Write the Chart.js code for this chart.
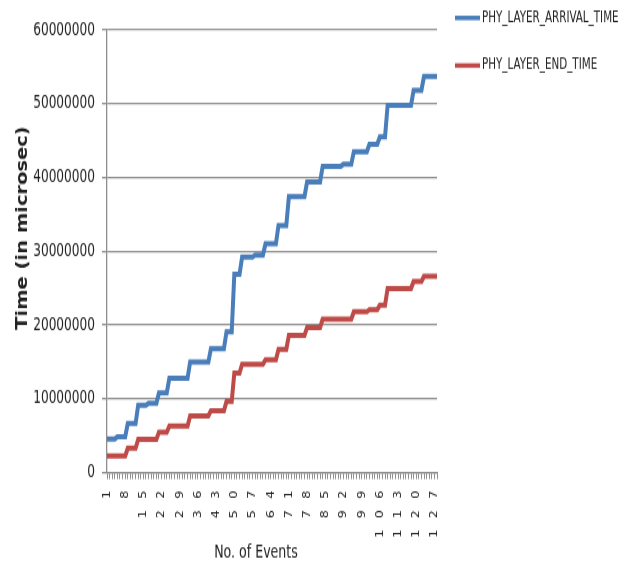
<!DOCTYPE html>
<html>
<head>
<meta charset="utf-8">
<script src="https://cdn.jsdelivr.net/npm/chart.js@4.4.0/dist/chart.umd.min.js"></script>
<style>
    html, body { margin: 0; padding: 0; background: #fff; }
    #wrap { width: 634px; height: 568px; overflow: hidden; }
    /* the chart is drawn 437px tall and stretched to fill the page height */
    #grafico { display: block; transform-origin: 0 0; transform: scaleY(1.2998); }
</style>
</head>
<body>
<div id="wrap"><canvas id="grafico" width="634" height="437"></canvas></div>
<script>
// event numbers on the x axis
const eventos = Array.from({ length: 128 }, (_, i) => String(i + 1));
const rotulosX = ['1', '8', '15', '22', '29', '36', '43', '50', '57', '64', '71', '78', '85', '92', '99', '106', '113', '120', '127'];
const ticksY = [0, 10000000, 20000000, 30000000, 40000000, 50000000, 60000000];

// PHY_LAYER_ARRIVAL_TIME, one value per event
const chegada = [
    4550000, 4550000, 4550000, 4550000,
    4850000, 4850000, 4850000, 4850000,
    6650000, 6650000, 6650000, 6650000,
    9150000, 9150000, 9150000, 9150000,
    9400000, 9400000, 9400000, 9400000,
    10800000, 10800000, 10800000, 10800000,
    12800000, 12800000, 12800000, 12800000, 12800000, 12800000, 12800000, 12800000,
    15000000, 15000000, 15000000, 15000000, 15000000, 15000000, 15000000, 15000000,
    16800000, 16800000, 16800000, 16800000, 16800000, 16800000,
    19100000, 19100000, 19100000,
    26900000, 26900000, 26900000,
    29200000, 29200000, 29200000, 29200000, 29200000,
    29500000, 29500000, 29500000, 29500000,
    31000000, 31000000, 31000000, 31000000, 31000000,
    33500000, 33500000, 33500000, 33500000,
    37400000, 37400000, 37400000, 37400000, 37400000, 37400000, 37400000,
    39400000, 39400000, 39400000, 39400000, 39400000, 39400000,
    41500000, 41500000, 41500000, 41500000, 41500000, 41500000, 41500000, 41500000,
    41800000, 41800000, 41800000, 41800000,
    43500000, 43500000, 43500000, 43500000, 43500000, 43500000,
    44500000, 44500000, 44500000, 44500000,
    45500000, 45500000, 45500000,
    49800000, 49800000, 49800000, 49800000, 49800000, 49800000, 49800000, 49800000, 49800000, 49800000,
    51800000, 51800000, 51800000, 51800000,
    53700000, 53700000, 53700000, 53700000, 53700000, 53700000
];

// PHY_LAYER_END_TIME, one value per event
const fim = [
    2250000, 2250000, 2250000, 2250000, 2250000, 2250000, 2250000, 2250000,
    3300000, 3300000, 3300000, 3300000,
    4500000, 4500000, 4500000, 4500000, 4500000, 4500000, 4500000, 4500000,
    5500000, 5500000, 5500000, 5500000,
    6300000, 6300000, 6300000, 6300000, 6300000, 6300000, 6300000, 6300000,
    7700000, 7700000, 7700000, 7700000, 7700000, 7700000, 7700000, 7700000,
    8400000, 8400000, 8400000, 8400000, 8400000, 8400000,
    9650000, 9650000, 9650000,
    13500000, 13500000, 13500000,
    14700000, 14700000, 14700000, 14700000, 14700000, 14700000, 14700000, 14700000, 14700000,
    15300000, 15300000, 15300000, 15300000, 15300000,
    16700000, 16700000, 16700000, 16700000,
    18600000, 18600000, 18600000, 18600000, 18600000, 18600000, 18600000,
    19650000, 19650000, 19650000, 19650000, 19650000, 19650000,
    20800000, 20800000, 20800000, 20800000, 20800000, 20800000, 20800000, 20800000, 20800000, 20800000, 20800000, 20800000,
    21800000, 21800000, 21800000, 21800000, 21800000, 21800000,
    22100000, 22100000, 22100000, 22100000,
    22700000, 22700000, 22700000,
    24950000, 24950000, 24950000, 24950000, 24950000, 24950000, 24950000, 24950000, 24950000, 24950000,
    25900000, 25900000, 25900000, 25900000,
    26600000, 26600000, 26600000, 26600000, 26600000, 26600000
];

const fonte = "'Liberation Sans Narrow', 'DejaVu Sans Condensed', sans-serif";
const corTexto = '#222';
const corGrade = '#8e8e8e';

// legend on the right, both axis titles and the spaced-out x labels
const legendaETitulos = {
    id: 'legendaETitulos',
    afterDraw(chart) {
        const { ctx } = chart;
        ctx.save();
        chart.data.datasets.forEach((ds, i) => {
            const y = 13.8 + i * 36.6;
            ctx.strokeStyle = ds.borderColor;
            ctx.lineWidth = 3.5;
            ctx.beginPath();
            ctx.moveTo(455, y);
            ctx.lineTo(480, y);
            ctx.stroke();
            ctx.fillStyle = corTexto;
            ctx.font = `11.5px ${fonte}`;
            ctx.textAlign = 'left';
            ctx.textBaseline = 'middle';
            ctx.fillText(ds.label, 482, y);
        });

        // x labels: rotated digits, read bottom to top, each glyph placed on its own
        const escalaX = chart.scales.x;
        ctx.fillStyle = corTexto;
        ctx.font = `11px ${fonte}`;
        ctx.textAlign = 'center';
        ctx.textBaseline = 'middle';
        eventos.forEach((rotulo, i) => {
            if (!rotulosX.includes(rotulo)) return;
            const x = escalaX.getPixelForTick(i);
            const n = rotulo.length;
            for (let j = 0; j < n; j++) {
                ctx.save();
                ctx.translate(x, 380.5 + (n - 1 - j) * 15);
                ctx.rotate(-Math.PI / 2);
                ctx.fillText(rotulo[j], 0, 0);
                ctx.restore();
            }
        });

        ctx.font = `14px ${fonte}`;
        ctx.fillText('No. of Events', 256, 425.4);

        ctx.translate(23, 175.4);
        ctx.rotate(-Math.PI / 2);
        ctx.font = "bold 15px 'DejaVu Sans', sans-serif";
        ctx.fillText('Time (in microsec)', 0, 0);
        ctx.restore();
    }
};

const ctx = document.getElementById('grafico').getContext('2d');
new Chart(ctx, {
    type: 'line',
    data: {
        labels: eventos,
        datasets: [{
            label: 'PHY_LAYER_ARRIVAL_TIME',
            data: chegada,
            borderColor: '#4a7ebb',
            borderWidth: 4,
            pointRadius: 0,
            tension: 0
        }, {
            label: 'PHY_LAYER_END_TIME',
            data: fim,
            borderColor: '#be4b48',
            borderWidth: 4,
            pointRadius: 0,
            tension: 0
        }]
    },
    options: {
        responsive: false,
        animation: false,
        layout: { padding: { top: 23, right: 197, left: 0, bottom: 0 } },
        plugins: {
            legend: { display: false },
            tooltip: { enabled: false }
        },
        scales: {
            x: {
                afterFit: (escala) => { escala.height = 73.4; },
                grid: { drawOnChartArea: false, drawTicks: true, tickLength: 5, color: corGrade, lineWidth: 1 },
                border: { color: corGrade, width: 1.3 },
                ticks: { autoSkip: false, display: false }
            },
            y: {
                min: 0,
                max: 60000000,
                afterFit: (escala) => { escala.width = 107; },
                afterBuildTicks: (escala) => { escala.ticks = ticksY.map((v) => ({ value: v })); },
                grid: { color: corGrade, lineWidth: 1.3, tickLength: 5 },
                border: { color: corGrade, width: 1.3 },
                ticks: {
                    padding: 7,
                    color: corTexto,
                    font: { family: fonte, size: 13.5 },
                    callback: (valor) => String(valor)
                }
            }
        }
    },
    plugins: [legendaETitulos]
});
</script>
</body>
</html>
